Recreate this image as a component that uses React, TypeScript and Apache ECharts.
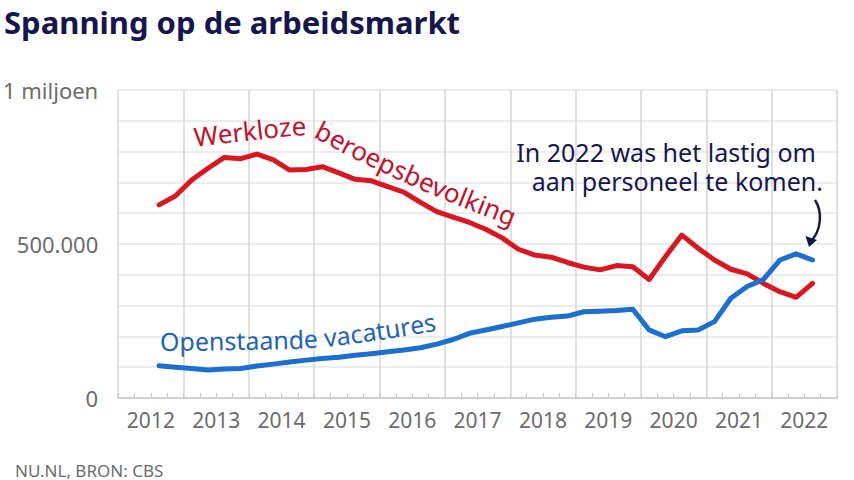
import React, { useEffect, useRef } from "react";
import * as echarts from "echarts";

// Year labels on the x axis
const years = ["2012", "2013", "2014", "2015", "2016", "2017", "2018", "2019", "2020", "2021", "2022"];
// The first value belongs to the third quarter of 2012 (quarter index 2)
const firstQuarterIndex = 2;
// Werkloze beroepsbevolking, thousands, per quarter
const werkloos = [627, 656, 708, 746, 781, 777, 792, 773, 740, 742, 751, 731, 710, 705, 686, 668, 635, 605, 587, 570, 548, 520, 483, 464, 457, 440, 425, 416, 430, 426, 385, 459, 529, 486, 448, 418, 403, 372, 345, 327, 372];
// Openstaande vacatures, thousands, per quarter
const vacatures = [105, 100, 96, 91, 94, 96, 104, 110, 117, 123, 128, 132, 139, 144, 150, 156, 163, 175, 190, 210, 221, 232, 244, 256, 262, 266, 280, 282, 284, 288, 221, 199, 218, 221, 248, 324, 362, 385, 448, 468, 448];
const yTickLabels: Record<number, string> = { 0: "0", 500000: "500.000", 1000000: "1 miljoen" };

const FONT = '"Noto Sans", "Open Sans", sans-serif';
const NAVY = "#16164f";
const GRAY = "#6b6b6b";

function textOnPath(text: string, pts: number[][], fs: number, color: string) {
  const dense: number[][] = [];
  const n = pts.length;
  for (let i = 0; i < n - 1; i++) {
    const p0 = pts[Math.max(i - 1, 0)], p1 = pts[i], p2 = pts[i + 1], p3 = pts[Math.min(i + 2, n - 1)];
    for (let k = 0; k < 30; k++) {
      const t = k / 30, t2 = t * t, t3 = t2 * t;
      const f = (a: number, b: number, c: number, d: number) =>
        0.5 * (2 * b + (-a + c) * t + (2 * a - 5 * b + 4 * c - d) * t2 + (-a + 3 * b - 3 * c + d) * t3);
      dense.push([f(p0[0], p1[0], p2[0], p3[0]), f(p0[1], p1[1], p2[1], p3[1])]);
    }
  }
  dense.push(pts[n - 1]);
  const cum = [0];
  for (let i = 1; i < dense.length; i++) {
    cum.push(cum[i - 1] + Math.hypot(dense[i][0] - dense[i - 1][0], dense[i][1] - dense[i - 1][1]));
  }
  const at = (s: number) => {
    let i = 1;
    while (i < dense.length - 1 && cum[i] < s) i++;
    const a = dense[i - 1], b = dense[i];
    const seg = cum[i] - cum[i - 1] || 1;
    const u = (s - cum[i - 1]) / seg;
    const ang = Math.atan2(b[1] - a[1], b[0] - a[0]);
    return { x: a[0] + (b[0] - a[0]) * u, y: a[1] + (b[1] - a[1]) * u, ang };
  };
  const canvas = document.createElement("canvas");
  const ctx = canvas.getContext("2d")!;
  ctx.font = `${fs}px ${FONT}`;
  const els: any[] = [];
  const h = 0.36 * fs;
  for (let i = 0; i < text.length; i++) {
    const s0 = ctx.measureText(text.slice(0, i)).width;
    const s1 = ctx.measureText(text.slice(0, i + 1)).width;
    const c = text[i];
    if (c === " ") continue;
    const p = at((s0 + s1) / 2);
    els.push({
      type: "text",
      x: p.x + Math.sin(p.ang) * h,
      y: p.y - Math.cos(p.ang) * h,
      rotation: -p.ang,
      silent: true,
      z: 100,
      style: {
        text: c, x: 0, y: 0, fill: color, fontSize: fs, fontFamily: FONT,
        align: "center", verticalAlign: "middle", textAlign: "center", textVerticalAlign: "middle",
      },
    });
  }
  return els;
}

function plainText(text: string, x: number, y: number, fs: number, color: string, align = "left", weight = "normal") {
  return {
    type: "text", x, y, silent: true, z: 100,
    style: {
      text, x: 0, y: 0, fill: color, fontSize: fs, fontFamily: FONT, fontWeight: weight,
      align, verticalAlign: "middle", textAlign: align, textVerticalAlign: "middle",
    },
  };
}

export default function App() {
  const ref = useRef<HTMLDivElement>(null);
  useEffect(() => {
    if (!ref.current) return;
    const chart = echarts.init(ref.current, undefined, { renderer: "svg" });
    const toPoints = (arr: number[]) => arr.map((v, i) => [i + firstQuarterIndex + 0.5, v * 1000]);
    const graphic: any[] = [
      plainText("Spanning op de arbeidsmarkt", 4, 22, 31, NAVY, "left", "bold"),
      plainText("NU.NL, BRON: CBS", 15, 470, 17, GRAY),
      plainText("In 2022 was het lastig om", 816, 152, 25, NAVY, "right"),
      plainText("aan personeel te komen.", 823, 181, 25, NAVY, "right"),
      {
        type: "bezierCurve", silent: true, z: 100,
        shape: { x1: 815, y1: 200, cpx1: 823, cpy1: 212, cpx2: 821, cpy2: 231, x2: 811, y2: 241 },
        style: { stroke: NAVY, lineWidth: 2.5, fill: "none" },
      },
      {
        type: "polygon", silent: true, z: 100,
        shape: { points: [[809, 247], [805.5, 236], [817, 240]] },
        style: { fill: NAVY },
      },
      ...textOnPath("Werkloze beroepsbevolking", [[195, 146], [250, 140], [302, 135], [324, 142], [354, 158], [432, 194], [512, 226]], 26, "#c3122d"),
      ...textOnPath("Openstaande vacatures", [[160, 350], [240, 349], [313, 347], [373, 340], [430, 331], [445, 328]], 25, "#1f63b5"),
    ];
    chart.setOption({
      animation: false,
      backgroundColor: "#ffffff",
      textStyle: { fontFamily: FONT },
      grid: { left: 117, right: 17, top: 90, bottom: 82, containLabel: false },
      xAxis: [
        {
          type: "value", min: 0, max: 44, interval: 4, position: "bottom",
          axisLine: { show: true, lineStyle: { color: "#c8c8c8", width: 1.5 } },
          axisTick: { show: true, inside: true, length: 5, lineStyle: { color: "#c8c8c8" } },
          minorTick: { show: true, splitNumber: 4, length: 5, lineStyle: { color: "#c8c8c8" } },
          axisLabel: { show: false },
          splitLine: { show: true, lineStyle: { color: "#d6d6d6", width: 1.5 } },
        },
        {
          type: "category", data: years, boundaryGap: true, position: "bottom",
          axisLine: { show: false }, axisTick: { show: false }, splitLine: { show: false },
          axisLabel: { color: GRAY, fontSize: 21, margin: 11, fontFamily: FONT },
        },
      ],
      yAxis: {
        type: "value", min: 0, max: 1000000, interval: 100000,
        axisLine: { show: false }, axisTick: { show: false },
        axisLabel: {
          color: GRAY, fontSize: 22, margin: 20, fontFamily: FONT,
          formatter: (v: number) => yTickLabels[v] ?? "",
        },
        splitLine: { show: true, lineStyle: { color: "#e6e6e6", width: 1.5 } },
      },
      series: [
        {
          type: "line", name: "Werkloze beroepsbevolking", xAxisIndex: 0, data: toPoints(werkloos),
          showSymbol: false, symbol: "none", lineStyle: { color: "#da1720", width: 5, cap: "round", join: "round" },
          z: 3,
        },
        {
          type: "line", name: "Openstaande vacatures", xAxisIndex: 0, data: toPoints(vacatures),
          showSymbol: false, symbol: "none", lineStyle: { color: "#1a6fd1", width: 5, cap: "round", join: "round" },
          z: 4,
        },
      ],
      graphic,
    });
    return () => chart.dispose();
  }, []);
  return <div ref={ref} style={{ position: "fixed", left: 0, top: 0, width: 854, height: 480, background: "#fff" }} />;
}
